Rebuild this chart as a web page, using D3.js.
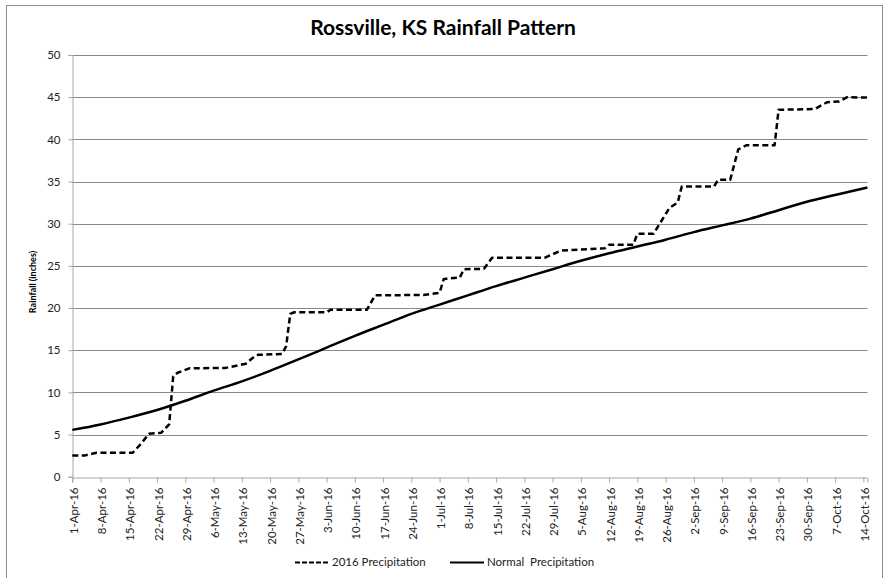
<!DOCTYPE html>
<html>
<head>
<meta charset="utf-8">
<script src="https://cdn.jsdelivr.net/npm/d3@7"></script>
<style>
  html, body { margin: 0; padding: 0; background: #fff; }
  svg { display: block; }
  text { font-family: Lato, "Liberation Sans", sans-serif; }
</style>
</head>
<body>
<script>
// ---- Data ----
const title = "Rossville, KS Rainfall Pattern";
const yAxisTitle = "Rainfall (inches)";
const seriesNames = ["2016 Precipitation", "Normal  Precipitation"];

const xTickLabels = ["1-Apr-16","8-Apr-16","15-Apr-16","22-Apr-16","29-Apr-16","6-May-16","13-May-16","20-May-16","27-May-16","3-Jun-16","10-Jun-16","17-Jun-16","24-Jun-16","1-Jul-16","8-Jul-16","15-Jul-16","22-Jul-16","29-Jul-16","5-Aug-16","12-Aug-16","19-Aug-16","26-Aug-16","2-Sep-16","9-Sep-16","16-Sep-16","23-Sep-16","30-Sep-16","7-Oct-16","14-Oct-16"];
const yTicks = [0,5,10,15,20,25,30,35,40,45,50];

// 2016 cumulative precipitation (inches)
const precip2016Dates = ["1-Apr-16","4-Apr-16","7-Apr-16","16-Apr-16","18-Apr-16","20-Apr-16","23-Apr-16","25-Apr-16","26-Apr-16","27-Apr-16","30-Apr-16","9-May-16","14-May-16","16-May-16","17-May-16","23-May-16","24-May-16","25-May-16","26-May-16","3-Jun-16","4-Jun-16","13-Jun-16","15-Jun-16","27-Jun-16","1-Jul-16","2-Jul-16","3-Jul-16","6-Jul-16","7-Jul-16","12-Jul-16","14-Jul-16","27-Jul-16","31-Jul-16","11-Aug-16","12-Aug-16","18-Aug-16","19-Aug-16","23-Aug-16","27-Aug-16","29-Aug-16","30-Aug-16","7-Sep-16","8-Sep-16","11-Sep-16","13-Sep-16","15-Sep-16","22-Sep-16","23-Sep-16","2-Oct-16","5-Oct-16","8-Oct-16","10-Oct-16","15-Oct-16"];
const precip2016Values = [2.5,2.5,2.85,2.85,3.9,5.1,5.2,6.2,11.9,12.3,12.85,12.9,13.4,14.2,14.45,14.55,15.5,19.3,19.5,19.5,19.8,19.8,21.5,21.55,21.8,23.4,23.5,23.6,24.6,24.65,25.95,25.95,26.8,27.1,27.5,27.5,28.8,28.8,31.9,32.5,34.4,34.4,35.2,35.2,38.8,39.3,39.3,43.5,43.6,44.4,44.5,45.0,44.95];

// Normal cumulative precipitation (inches)
const normalDates = ["1-Apr-16","8-Apr-16","15-Apr-16","22-Apr-16","29-Apr-16","6-May-16","13-May-16","20-May-16","27-May-16","3-Jun-16","10-Jun-16","17-Jun-16","24-Jun-16","1-Jul-16","8-Jul-16","15-Jul-16","22-Jul-16","29-Jul-16","5-Aug-16","12-Aug-16","19-Aug-16","26-Aug-16","2-Sep-16","9-Sep-16","16-Sep-16","23-Sep-16","30-Sep-16","7-Oct-16","15-Oct-16"];
const normalValues = [5.55,6.2,7.0,7.9,9.0,10.2,11.3,12.55,13.9,15.3,16.7,18.0,19.3,20.4,21.5,22.6,23.6,24.6,25.6,26.5,27.3,28.1,29.0,29.8,30.6,31.6,32.6,33.4,34.3];

// ---- Chart ----
const W = 887, H = 578;
const parse = d3.timeParse("%d-%b-%y");
const svg = d3.select("body").append("svg").attr("width", W).attr("height", H);

// outer border
svg.append("rect").attr("x", 6.5).attr("y", 5.5).attr("width", 876).attr("height", 600)
  .attr("fill", "none").attr("stroke", "#8c8c8c").attr("stroke-width", 1);

const x = d3.scaleTime().domain([parse("1-Apr-16"), parse("15-Oct-16")]).range([72.3, 867.4]);
const y = d3.scaleLinear().domain([0, 50]).range([476.7, 55]);

// title
svg.append("text").attr("x", 443).attr("y", 35).attr("text-anchor", "middle")
  .attr("font-size", 21).attr("font-weight", "bold").attr("fill", "#000").text(title);

// gridlines
svg.append("g").selectAll("line").data(yTicks.filter(v => v > 0)).join("line")
  .attr("x1", x.range()[0]).attr("x2", x.range()[1])
  .attr("y1", d => Math.round(y(d)) + 0.5).attr("y2", d => Math.round(y(d)) + 0.5)
  .attr("stroke", "#8a8a8a").attr("stroke-width", 1);

// y axis
const yAxis = svg.append("g").attr("transform", `translate(${Math.round(x.range()[0]) + 0.5},0)`)
  .call(d3.axisLeft(y).tickValues(yTicks).tickSize(4).tickPadding(8).tickFormat(d3.format("d")));
yAxis.select(".domain").attr("stroke", "#a6a6a6");
yAxis.selectAll(".tick line").attr("stroke", "#a6a6a6");
yAxis.selectAll(".tick text").attr("font-size", 11.5).attr("fill", "#222").attr("font-family", "Lato, sans-serif");

// x axis
const xTickDates = xTickLabels.map(parse);
const xAxis = svg.append("g").attr("transform", `translate(0,${Math.round(y(0)) + 0.5})`)
  .call(d3.axisBottom(x).tickValues(xTickDates).tickSize(5).tickFormat((d, i) => xTickLabels[i]));
xAxis.select(".domain").attr("stroke", "#a6a6a6");
xAxis.selectAll(".tick line").attr("stroke", "#a6a6a6");
xAxis.selectAll(".tick text")
  .attr("font-size", 11.5).attr("fill", "#222").attr("font-family", "Lato, sans-serif")
  .attr("text-anchor", "end")
  .attr("transform", "rotate(-90)")
  .attr("x", -10).attr("y", 1).attr("dy", "0.35em");

// y axis title
svg.append("text").attr("transform", "translate(36,282) rotate(-90)")
  .attr("text-anchor", "middle").attr("font-size", 9).attr("font-weight", "bold")
  .attr("fill", "#000").text(yAxisTitle);

// lines
const line = d3.line().x(d => x(d[0])).y(d => y(d[1]));
const normalData = normalDates.map((d, i) => [parse(d), normalValues[i]]);
const precipData = precip2016Dates.map((d, i) => [parse(d), precip2016Values[i]]);

svg.append("path").datum(normalData).attr("d", line).attr("d", line.curve(d3.curveMonotoneX))
  .attr("fill", "none").attr("stroke", "#000").attr("stroke-width", 2.5).attr("stroke-linejoin", "round");
line.curve(d3.curveLinear);
svg.append("path").datum(precipData).attr("d", line)
  .attr("fill", "none").attr("stroke", "#000").attr("stroke-width", 2.5)
  .attr("stroke-dasharray", "6,3.5").attr("stroke-linejoin", "round");

// legend
const leg = svg.append("g");
leg.append("line").attr("x1", 295).attr("x2", 328).attr("y1", 562.5).attr("y2", 562.5)
  .attr("stroke", "#000").attr("stroke-width", 2).attr("stroke-dasharray", "5,2");
leg.append("text").attr("x", 332).attr("y", 566).attr("font-size", 11.5).attr("fill", "#222").text(seriesNames[0]);
leg.append("line").attr("x1", 450).attr("x2", 484).attr("y1", 562.5).attr("y2", 562.5)
  .attr("stroke", "#000").attr("stroke-width", 2);
leg.append("text").attr("x", 487).attr("y", 566).attr("font-size", 11.5).attr("fill", "#222")
  .style("white-space", "pre").text(seriesNames[1]);
</script>
</body>
</html>
